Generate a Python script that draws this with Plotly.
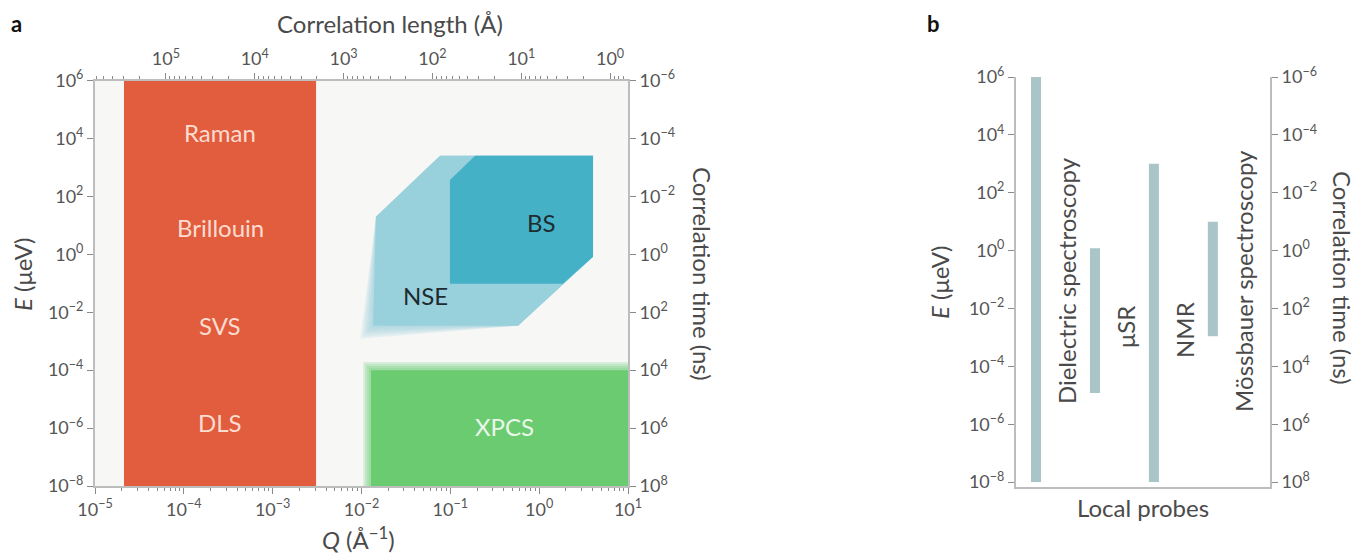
import numpy as np
import plotly.graph_objects as go

W, H = 1369, 554
OFF = 8  # page body margin in the browser

# ---------------- panel a data ----------------
Q_TICK_EXP = [-5, -4, -3, -2, -1, 0, 1]
LENGTH_TICK_EXP = [5, 4, 3, 2, 1, 0]
E_TICK_EXP = [6, 4, 2, 0, -2, -4, -6, -8]
TAU_TICK_EXP = [-6, -4, -2, 0, 2, 4, 6, 8]

LIGHT_Q = [2.12e-5, 3.08e-3]
LIGHT_E = [1e-8, 1e6]
LIGHT_NAMES = ["Raman", "Brillouin", "SVS", "DLS"]
LIGHT_NAME_E = [1.55e4, 8.2, 3.4e-3, 1.55e-6]

XPCS_Q = [1.28e-2, 10.0]
XPCS_E = [1e-8, 1e-4]
XPCS_LABEL = ["XPCS", 0.41, 1.1e-6]

NSE_Q = [0.0766, 4.04, 4.04, 0.578, 0.0135, 0.01455]
NSE_E = [2500, 2500, 0.82, 0.0034, 0.0034, 19.6]
NSE_LABEL = ["NSE", 0.052, 0.037]

BS_Q = [0.099, 0.19, 4.04, 4.04, 1.85, 0.099]
BS_E = [370, 2500, 2500, 0.82, 0.096, 0.096]
BS_LABEL = ["BS", 1.05, 13.0]

# ---------------- panel b data ----------------
PROBES = ["Dielectric spectroscopy", "μSR", "NMR", "Mössbauer spectroscopy"]
PROBE_E_LOW = [1e-8, 1.2e-5, 1e-8, 1.1e-3]
PROBE_E_HIGH = [1e6, 1.2, 1e3, 1e1]

# ---------------- style ----------------
FONT = "Lato"
RED = "#E25D3E"
GREEN = "#6BCB71"
NSE_C = "#98D0DC"
BS_C = "#44B1C7"
BG = "#F7F7F6"
AXC = "#BDBDBD"
TICKC = "#8A8A8A"
TXT = "#4A4A4A"
BARC = "#A9C5C7"


def fx(px):
    return (px - OFF) / W


def fy(py):
    return 1 - (py - OFF) / H


def pw(e):
    return "10<sup>%s</sup>" % (str(e).replace("-", "−"))


def minor_vals(lo, hi):
    out = []
    for e in range(lo, hi + 1):
        for m in range(2, 10):
            out.append(m * 10.0 ** e)
    return out


def rect(q, e):
    return [q[0], q[1], q[1], q[0], q[0]], [e[0], e[0], e[1], e[1], e[0]]


fig = go.Figure()


def poly(x, y, color, xa="x", ya="y"):
    fig.add_trace(go.Scatter(x=x, y=y, fill="toself", fillcolor=color, mode="lines",
                             line=dict(width=0, color=color), hoverinfo="skip",
                             showlegend=False, xaxis=xa, yaxis=ya))


# red (light scattering) region
rx, ry = rect(LIGHT_Q, LIGHT_E)
poly(rx, ry, RED)

# green XPCS with soft top/left edge
for k in (4, 3, 2, 1):
    qx = [XPCS_Q[0] / 10 ** (0.022 * k), XPCS_Q[1]]
    ey = [XPCS_E[0], XPCS_E[1] * 10 ** (0.07 * k)]
    gx, gy = rect(qx, ey)
    poly(gx, gy, "rgba(107,203,113,0.22)")
gx, gy = rect(XPCS_Q, XPCS_E)
poly(gx, gy, GREEN)

# NSE with soft lower-left corner
for k in (6, 5, 4, 3, 2, 1):
    gq = list(NSE_Q)
    ge = list(NSE_E)
    gq[4] = NSE_Q[4] / 10 ** (0.024 * k)
    ge[4] = NSE_E[4] / 10 ** (0.075 * k)
    poly(gq + [gq[0]], ge + [ge[0]], "rgba(152,208,220,0.16)")
poly(NSE_Q + [NSE_Q[0]], NSE_E + [NSE_E[0]], NSE_C)
poly(BS_Q + [BS_Q[0]], BS_E + [BS_E[0]], BS_C)

# invisible traces to register secondary axes
fig.add_trace(go.Scatter(x=[], y=[], xaxis="x2", yaxis="y", showlegend=False, hoverinfo="skip"))
fig.add_trace(go.Scatter(x=[], y=[], xaxis="x", yaxis="y2", showlegend=False, hoverinfo="skip"))
fig.add_trace(go.Scatter(x=[], y=[], xaxis="x3", yaxis="y4", showlegend=False, hoverinfo="skip"))

# panel b bars
fig.add_trace(go.Bar(x=list(range(len(PROBES))),
                     y=[h - l for h, l in zip(PROBE_E_HIGH, PROBE_E_LOW)],
                     base=PROBE_E_LOW, width=0.17, marker=dict(color=BARC, line=dict(width=0)),
                     xaxis="x3", yaxis="y3", showlegend=False, hoverinfo="skip"))

tickfont = dict(family=FONT, size=18, color="#555555")
dom_xa = [fx(95), fx(628)]
dom_ya = [fy(486), fy(80.5)]
dom_xb = [fx(1016), fx(1270)]
dom_yb = [fy(487), fy(77)]

L_lo = np.log10(2 * np.pi / 10 ** Q_TICK_EXP[0])
L_hi = np.log10(2 * np.pi / 10 ** Q_TICK_EXP[-1])

common = dict(showgrid=False, zeroline=False, showline=True, linecolor=AXC, linewidth=2,
              ticks="outside", tickcolor=TICKC, ticklen=6, tickwidth=1, tickfont=tickfont,
              automargin=False)

fig.update_layout(
    width=W, height=H, margin=dict(l=0, r=0, t=0, b=0, autoexpand=False),
    paper_bgcolor="white", plot_bgcolor="white", showlegend=False,
    barmode="overlay",
    xaxis=dict(domain=dom_xa, anchor="y", type="log",
               range=[Q_TICK_EXP[0], Q_TICK_EXP[-1]],
               tickmode="array", tickvals=[10.0 ** e for e in Q_TICK_EXP],
               ticktext=[pw(e) for e in Q_TICK_EXP],
               minor=dict(tickmode="array", tickvals=minor_vals(-5, 0), ticks="outside",
                          ticklen=3, tickcolor=TICKC),
               **common),
    xaxis2=dict(overlaying="x", anchor="y", side="top", type="log",
                range=[L_lo, L_hi],
                tickmode="array", tickvals=[10.0 ** e for e in LENGTH_TICK_EXP],
                ticktext=[pw(e) for e in LENGTH_TICK_EXP],
                minor=dict(tickmode="array", tickvals=minor_vals(-1, 5), ticks="outside",
                           ticklen=3, tickcolor=TICKC),
                **common),
    yaxis=dict(domain=dom_ya, anchor="x", type="log", range=[-8, 6],
               tickmode="array", tickvals=[10.0 ** e for e in E_TICK_EXP],
               ticktext=[pw(e) for e in E_TICK_EXP], **common),
    yaxis2=dict(overlaying="y", anchor="x", side="right", type="log", range=[-8, 6],
                tickmode="array", tickvals=[10.0 ** (-e) for e in TAU_TICK_EXP],
                ticktext=[pw(e) for e in TAU_TICK_EXP], **common),
    xaxis3=dict(domain=dom_xb, anchor="y3", range=[-0.34, 3.97], showgrid=False,
                zeroline=False, showline=True, linecolor=AXC, linewidth=2,
                ticks="", showticklabels=False, automargin=False),
    yaxis3=dict(domain=dom_yb, anchor="x3", type="log", range=[-8.17, 6],
                tickmode="array", tickvals=[10.0 ** e for e in E_TICK_EXP],
                ticktext=[pw(e) for e in E_TICK_EXP], **common),
    yaxis4=dict(overlaying="y3", anchor="x3", side="right", type="log", range=[-8.17, 6],
                tickmode="array", tickvals=[10.0 ** (-e) for e in TAU_TICK_EXP],
                ticktext=[pw(e) for e in TAU_TICK_EXP], **common),
)

# panel a background
fig.add_shape(type="rect", xref="x domain", yref="y domain", x0=0, x1=1, y0=0, y1=1,
              fillcolor=BG, line=dict(width=0), layer="below")

ann = []


def A(text, x, y, xref="paper", yref="paper", size=24, color=TXT, angle=0, bold=False):
    if bold:
        text = "<b>%s</b>" % text
    ann.append(dict(text=text, x=x, y=y, xref=xref, yref=yref, showarrow=False,
                    textangle=angle, font=dict(family=FONT, size=size, color=color),
                    xanchor="center", yanchor="middle", borderpad=0))


# region labels
qmid = (np.log10(LIGHT_Q[0]) + np.log10(LIGHT_Q[1])) / 2
for name, e in zip(LIGHT_NAMES, LIGHT_NAME_E):
    A(name, qmid, np.log10(e), "x", "y", size=24, color="#FBDCD0")
A(XPCS_LABEL[0], np.log10(XPCS_LABEL[1]), np.log10(XPCS_LABEL[2]), "x", "y", size=24, color="#EAF7EA")
A(NSE_LABEL[0], np.log10(NSE_LABEL[1]), np.log10(NSE_LABEL[2]), "x", "y", size=24, color="#1E2B30")
A(BS_LABEL[0], np.log10(BS_LABEL[1]), np.log10(BS_LABEL[2]), "x", "y", size=24, color="#1E2B30")

# panel titles and axis titles
A("a", fx(16), fy(23), size=22, color="#111111", bold=True)
A("b", fx(933), fy(24), size=22, color="#111111", bold=True)
A("Correlation length (Å)", fx(390), fy(24))
A("<i>Q</i> (Å<sup>−1</sup>)", fx(358), fy(538))
A("<i>E</i> (μeV)", fx(23), fy(274), angle=-90)
A("Correlation time (ns)", fx(702), fy(274), angle=90)
A("<i>E</i> (μeV)", fx(940), fy(282), angle=-90)
A("Correlation time (ns)", fx(1343), fy(278), angle=90)
A("Local probes", fx(1143), fy(508))

# probe labels (rotated)
label_centers = [281, 327, 330, 281]
for i, (p, yc) in enumerate(zip(PROBES, label_centers)):
    A(p, i + 0.51, fy(yc), xref="x3", angle=-90)

fig.update_layout(annotations=ann)
fig.write_html("out.html")
